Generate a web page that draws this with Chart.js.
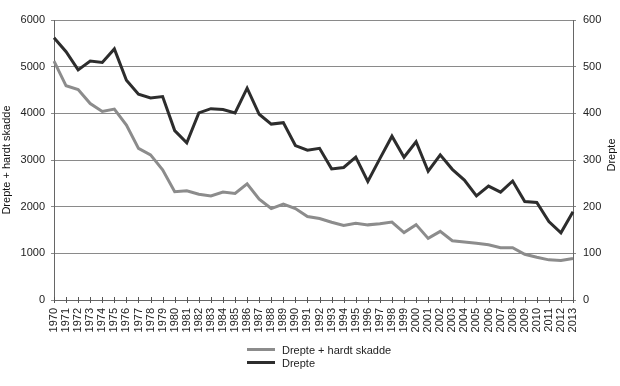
<!DOCTYPE html>
<html><head><meta charset="utf-8">
<script src="https://cdn.jsdelivr.net/npm/chart.js@4/dist/chart.umd.min.js"></script>
<style>
html,body{margin:0;padding:0;background:#fff;}
#wrap{position:relative;width:620px;height:386px;}
#legend{position:absolute;left:247px;top:343px;font:11px "Liberation Sans",Arial,sans-serif;color:#222;}
.row{display:flex;align-items:center;height:13px;}
.sw{width:28px;height:3px;margin-right:7px;}
</style></head>
<body>
<div id="wrap">
<canvas id="c" width="620" height="386"></canvas>
<div id="legend">
<div class="row"><div class="sw" style="background:#8c8c8c"></div>Drepte + hardt skadde</div>
<div class="row"><div class="sw" style="background:#2d2d2d"></div>Drepte</div>
</div>
</div>
<script>
const years = ["1970","1971","1972","1973","1974","1975","1976","1977","1978","1979","1980","1981","1982","1983","1984","1985","1986","1987","1988","1989","1990","1991","1992","1993","1994","1995","1996","1997","1998","1999","2000","2001","2002","2003","2004","2005","2006","2007","2008","2009","2010","2011","2012","2013"];
const drepteHardtSkadde = [5120,4590,4510,4210,4040,4090,3750,3250,3110,2790,2320,2340,2265,2230,2315,2285,2490,2160,1960,2055,1960,1790,1745,1665,1595,1645,1610,1635,1670,1445,1615,1320,1470,1270,1245,1215,1185,1120,1120,980,915,860,845,890];
const drepte = [562,532,493,512,509,538,471,441,433,436,363,337,401,410,408,401,454,398,377,380,331,321,325,281,284,306,254,303,351,306,339,276,311,280,257,223,244,231,255,211,209,168,144,189];
const leftTicks = [0,1000,2000,3000,4000,5000,6000];
const rightTicks = [0,100,200,300,400,500,600];

const FONT = {family:'"Liberation Sans", Arial, sans-serif', size:11};
const AX = '#8a8a8a';

const extras = {
  id:'extras',
  afterDatasetsDraw(chart){
    const x = chart.scales.x, ctx = chart.ctx, ca = chart.chartArea, y0 = ca.bottom;
    ctx.save(); ctx.strokeStyle = '#555'; ctx.lineWidth = 1;
    for (let i=0;i<years.length;i++){
      const px = Math.round(x.getPixelForValue(i))+0.5;
      ctx.beginPath(); ctx.moveTo(px,y0-3); ctx.lineTo(px,y0+3); ctx.stroke();
    }
    // right axis title, reading bottom to top
    ctx.fillStyle = '#111';
    ctx.font = '11px "Liberation Sans", Arial, sans-serif';
    ctx.textAlign = 'center'; ctx.textBaseline = 'middle';
    ctx.translate(612, (ca.top+ca.bottom)/2 - 5);
    ctx.rotate(-Math.PI/2);
    ctx.fillText('Drepte', 0, 0);
    ctx.restore();
  }
};

new Chart(document.getElementById('c'), {
  type:'line',
  data:{labels:years, datasets:[
    {label:'Drepte + hardt skadde', data:drepteHardtSkadde, yAxisID:'yL', borderColor:'#8c8c8c', borderWidth:3, pointRadius:0, tension:0, fill:false},
    {label:'Drepte', data:drepte, yAxisID:'yR', borderColor:'#2d2d2d', borderWidth:3, pointRadius:0, tension:0, fill:false}
  ]},
  options:{
    responsive:false, animation:false, devicePixelRatio:1,
    layout:{padding:{top:20,left:0,right:0,bottom:0}},
    plugins:{legend:{display:false}, tooltip:{enabled:false}},
    scales:{
      x:{
        offset:false,
        grid:{display:true, drawOnChartArea:false, drawTicks:false, color:AX},
        border:{color:'#666'},
        ticks:{autoSkip:false, maxRotation:90, minRotation:90, padding:8, color:'#222', font:FONT},
        afterFit(s){ s.height = 86; }
      },
      yL:{
        position:'left', min:0, max:6000,
        afterBuildTicks(s){ s.ticks = leftTicks.map(v=>({value:v})); },
        grid:{color:AX, tickLength:3, lineWidth:1},
        border:{color:'#666'},
        ticks:{padding:6, color:'#222', font:FONT, callback:(v)=>String(v)},
        title:{display:true, text:'Drepte + hardt skadde', color:'#111', font:{family:FONT.family,size:11}, padding:{top:0,bottom:0}},
        afterFit(s){ s.width = 54; }
      },
      yR:{
        position:'right', min:0, max:600,
        afterBuildTicks(s){ s.ticks = rightTicks.map(v=>({value:v})); },
        grid:{drawOnChartArea:false, color:AX, tickLength:3},
        border:{color:'#666'},
        ticks:{padding:7, color:'#222', font:FONT, callback:(v)=>String(v)},
        afterFit(s){ s.width = 47; }
      }
    }
  },
  plugins:[extras]
});
</script>
</body></html>
